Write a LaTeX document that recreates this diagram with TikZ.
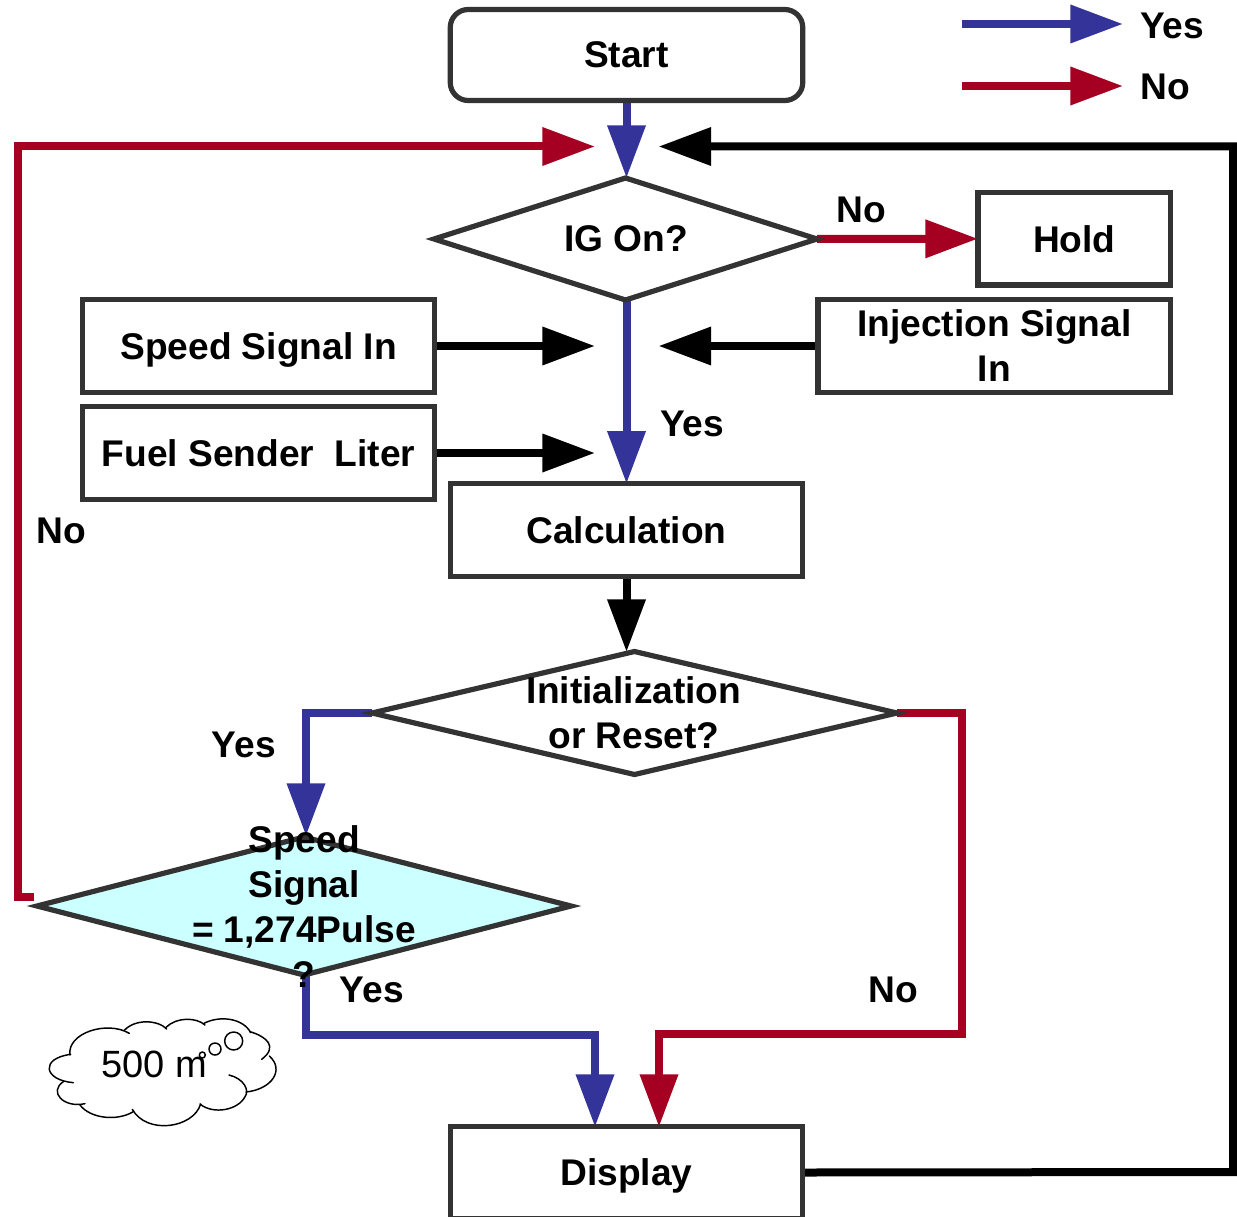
\documentclass[tikz,border=0pt]{standalone}
\usepackage{fontspec}
\setmainfont{Liberation Sans}
\usetikzlibrary{arrows.meta,shapes.geometric,backgrounds}
\definecolor{yesblue}{HTML}{333399}
\definecolor{nored}{HTML}{A50021}
\definecolor{edge}{HTML}{333333}
\definecolor{cyanfill}{HTML}{CCFFFF}
\newcommand{\lbl}{\fontsize{27.85}{33.75}\selectfont\bfseries}
\tikzset{
 box/.style={draw=edge,line width=3.9pt,rectangle,fill=white,outer sep=0pt,minimum width=264.4pt,minimum height=69.4pt,inner sep=0pt,align=center,font=\lbl},
 dec/.style={draw=edge,line width=3.9pt,diamond,fill=white,inner sep=0pt,outer sep=0pt},
 txt/.style={inner sep=0pt,align=center,font=\lbl,text=black},
 flow/.style={line width=6pt,-{Triangle[length=39.5pt,width=27.5pt]},line join=miter},
 yesflow/.style={flow,draw=yesblue},
 noflow/.style={flow,draw=nored},
 blkflow/.style={flow,draw=black},
 cloudline/.style={draw=black,line width=1.1pt,line cap=round},
 nodepth/.style={text height=20pt,text depth=0pt},
}
\begin{document}
\begin{tikzpicture}[x=.75pt,y=-.75pt]
\useasboundingbox (0,0) rectangle (1237,1216);
% connectors' free ends
\coordinate (tl1) at (595,146.5);
\coordinate (tr1) at (658.5,146.5);
\coordinate (tl2) at (595,346);
\coordinate (tr2) at (658.5,346);
\coordinate (tl3) at (595,453);
\coordinate (igtop) at (626.5,178);
\coordinate (inittop) at (626.5,652);
\coordinate (redfrom) at (34,897);
\coordinate (redc1) at (18,897);
\coordinate (redc2) at (18,146.5);
\coordinate (blkc1) at (1233,1172);
\coordinate (blkc2) at (1233,146.5);
\coordinate (yc1) at (306,713);
\coordinate (yc2) at (306,836);
\coordinate (nc1) at (962,713);
\coordinate (nc2) at (962,1034);
\coordinate (nc3) at (659,1034);
\coordinate (nc4) at (659,1127);
\coordinate (sc1) at (306,975);
\coordinate (sc2) at (306,1035);
\coordinate (sc3) at (595,1035);
\coordinate (sc4) at (595,1127);
\coordinate (leg1a) at (962,24);
\coordinate (leg1b) at (1123,24);
\coordinate (leg2a) at (962,86);
\coordinate (leg2b) at (1123,86);
% shapes
\node[box,rounded corners=13.5pt,minimum height=68.25pt] (start) at (626.5,55) {Start};
\node[dec,minimum width=287.25pt,minimum height=91.5pt] (ig) at (625.5,239) {};
\node[box,minimum width=144.4pt] (hold) at (1074.25,238.75) {Hold};
\node[box,nodepth] (speed) at (258.5,346) {Speed Signal In};
\node[box] (inj) at (994.3,346) {Injection Signal\\In};
\node[box] (fuel) at (258.5,453) {Fuel Sender\ \ Liter};
\node[box] (calc) at (626.5,530) {Calculation};
\node[dec,minimum width=393.75pt,minimum height=92.25pt] (init) at (634.5,713) {};
\node[dec,fill=cyanfill,minimum width=400.5pt,minimum height=103.5pt] (sdec) at (304,906) {};
\node[box,nodepth] (disp) at (626.5,1172.5) {Display};
% connectors
\begin{scope}[on background layer]
\draw[yesflow] (start.south) -- (igtop);
\draw[yesflow] (sc1) -- (sc2) -- (sc3) -- (sc4);
\draw[yesflow] (calc.north |- ig.south) -- (calc.north);
\draw[noflow] (ig.east) -- (hold.west);
\draw[blkflow] (speed.east) -- (tl2);
\draw[blkflow] (inj.west) -- (tr2);
\draw[blkflow] (fuel.east) -- (tl3);
\draw[blkflow] (calc.south) -- (inittop);
\draw[noflow] (redfrom) -- (redc1) -- (redc2) -- (tl1);
\draw[blkflow] (disp.east) -- (blkc1) -- (blkc2) -- (tr1);
\draw[yesflow] (init.west) -- (yc1) -- (yc2);
\draw[noflow] (init.east) -- (nc1) -- (nc2) -- (nc3) -- (nc4);
\draw[yesflow] (leg1a) -- (leg1b);
\draw[noflow] (leg2a) -- (leg2b);
\end{scope}
% diamond texts
\node[txt] (igt) at (626,239) {IG On?};
\node[txt] (initt) at (634,713) {Initialization\\or Reset?};
\node[txt] (sdect) at (304,906.5) {Speed\\Signal\\= 1,274Pulse\\?};
% free labels
\node[txt] (l1) at (1172,25.5) {Yes};
\node[txt] (l2) at (1165,87) {No};
\node[txt] (l3) at (861,210) {No};
\node[txt] (l4) at (692,424) {Yes};
\node[txt] (l5) at (61,531) {No};
\node[txt] (l6) at (244,745) {Yes};
\node[txt] (l7) at (372,990) {Yes};
\node[txt] (l8) at (893,990) {No};
% cloud
\begin{scope}[shift={(30,810)},x=.25pt,y=-.25pt]
\draw[cloudline] (120,735) .. controls (110,670) and (230,630) .. (298,670);
\draw[cloudline] (282,662) .. controls (315,625) and (385,630) .. (410,657);
\draw[cloudline] (408,652) .. controls (440,620) and (500,622) .. (525,645);
\draw[cloudline] (522,640) .. controls (570,615) and (640,625) .. (662,668);
\draw[cloudline] (660,665) .. controls (710,680) and (745,710) .. (695,748);
\draw[cloudline] (718,738) .. controls (765,780) and (725,838) .. (648,846);
\draw[cloudline] (597,795) .. controls (640,805) and (660,840) .. (645,860) .. controls (625,900) and (550,915) .. (510,882);
\draw[cloudline] (512,882) .. controls (490,955) and (350,975) .. (307,898);
\draw[cloudline] (310,905) .. controls (260,935) and (180,925) .. (150,885);
\draw[cloudline] (165,881) .. controls (100,895) and (55,845) .. (100,815);
\draw[cloudline] (130,818) .. controls (40,810) and (30,745) .. (122,733);
\node[inner sep=0pt,font=\fontsize{28.5}{32}\selectfont] (cloudtxt) at (372,762) {500 m};
\draw[line width=1.1pt] (517,735) circle (9);
\draw[line width=1.1pt] (555,717) circle (18);
\draw[line width=1.1pt] (611,693) circle (27);
\end{scope}
\end{tikzpicture}
\end{document}
